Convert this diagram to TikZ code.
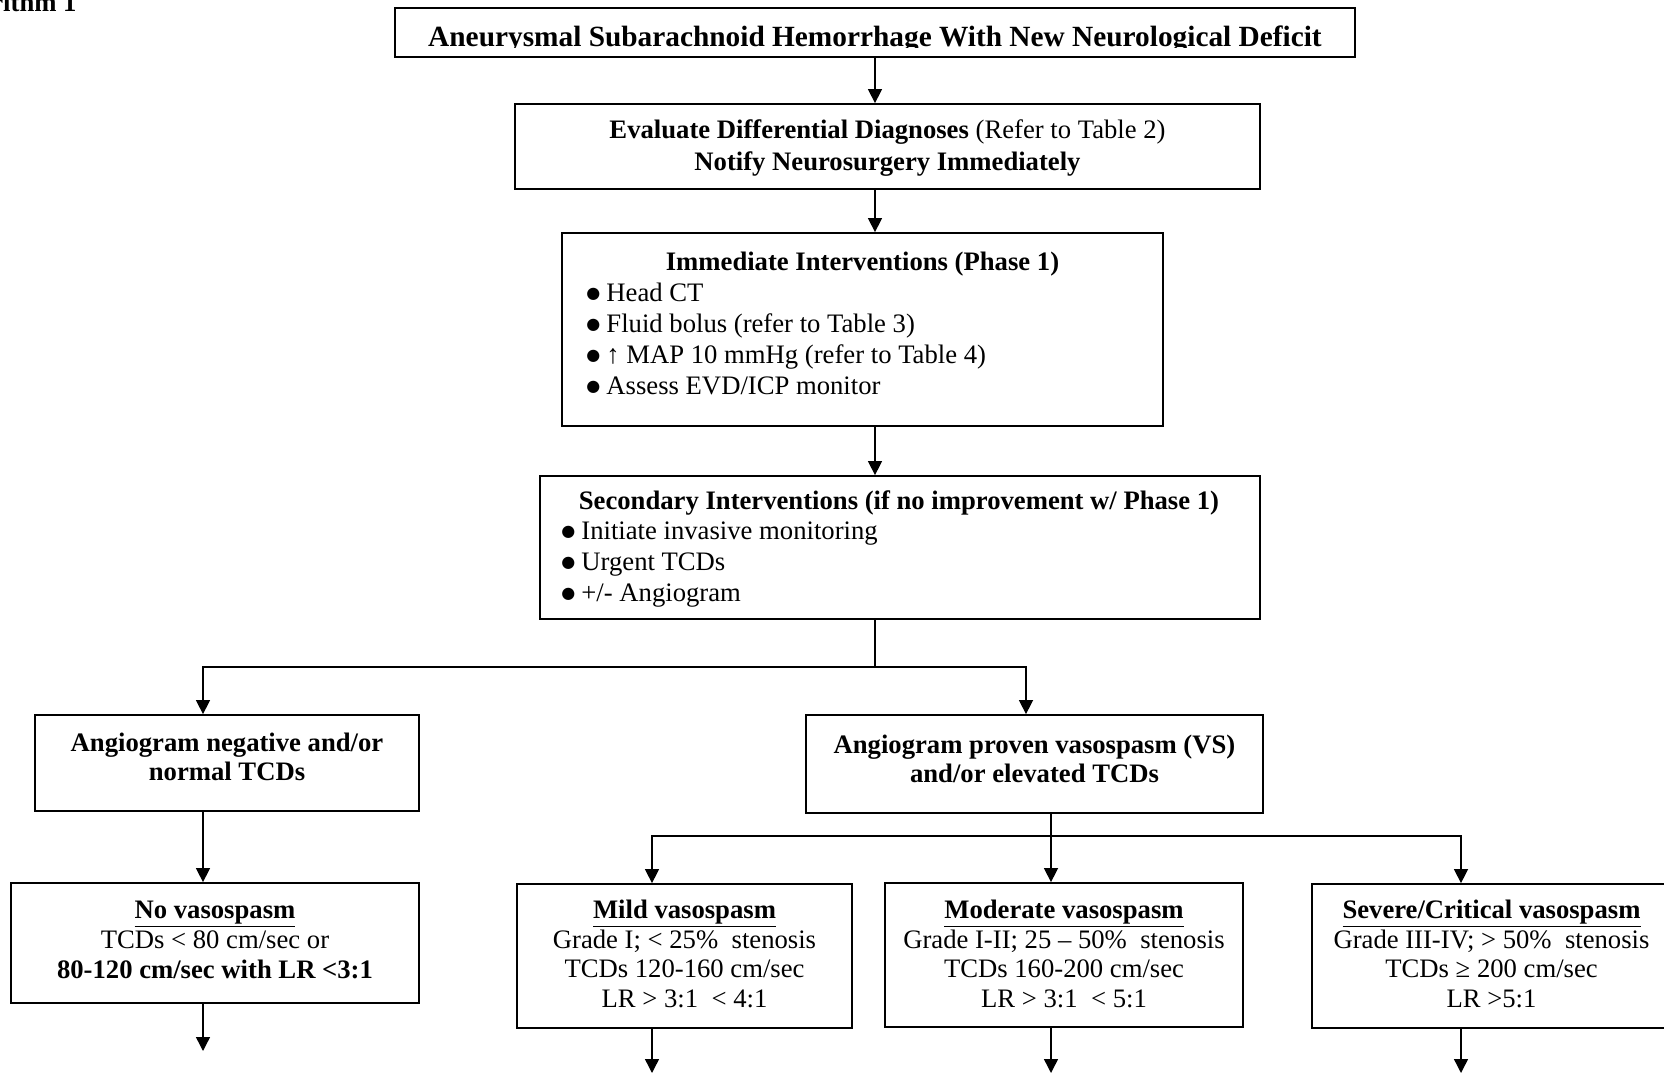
\documentclass[tikz,border=0pt]{standalone}
\usepackage{fontspec}
\setmainfont{Liberation Serif}
\newfontfamily\dejavu{DejaVu Sans}
\usetikzlibrary{arrows.meta,fit}
\newcommand{\mybul}{\makebox[9pt][l]{\raisebox{1.1pt}{\dejavu\fontsize{7.2}{9}\selectfont ●}}}
\begin{document}
\begin{tikzpicture}[x=0.45pt,y=-0.45pt,
  box/.style={draw, line width=0.8pt, inner sep=0pt, rectangle},
  tbox/.style={draw, line width=1.2pt, inner sep=0pt, rectangle},
  arr/.style={-{Triangle[length=6.3pt,width=6.3pt]}, line width=0.65pt},
  ln/.style={line width=0.65pt},
  txt/.style={anchor=base, inner sep=0pt, font=\fontsize{12}{13.8}\selectfont},
  lt/.style={anchor=base west, inner sep=0pt, font=\fontsize{12}{13.8}\selectfont}]
\useasboundingbox (0,0) rectangle (1664,1074);
\clip (0,0) rectangle (1664,1074);

% corner label
\node[anchor=base east, inner sep=0pt, font=\fontsize{12}{14}\selectfont\bfseries] (alg) at (77,11.5) {rithm 1};

% title box
\node[tbox, fit={(395,8) (1355,57)}] (b1) {};
\begin{scope}
\clip (395,8) rectangle (1355,47.8);
\node[anchor=base, inner sep=0pt, font=\fontsize{13.2}{15}\selectfont\bfseries] (t1) at (875,47) {Aneurysmal Subarachnoid Hemorrhage With New Neurological Deficit};
\end{scope}

% evaluate
\node[box, fit={(515,104) (1260,189)}] (b2) {};
\node[txt] (t2a) at (887.5,139) {\textbf{Evaluate Differential Diagnoses} (Refer to Table 2)};
\node[txt] (t2b) at (887.5,170) {\textbf{Notify Neurosurgery Immediately}};

% immediate
\node[box, fit={(562,233) (1163,426)}] (b3) {};
\node[txt] (t3) at (862.5,270) {\textbf{Immediate Interventions (Phase 1)}};
\node[lt] (t3a) at (586,301) {\mybul Head CT};
\node[lt] (t3b) at (586,332) {\mybul Fluid bolus (refer to Table 3)};
\node[lt] (t3c) at (586,363) {\mybul ↑ MAP 10 mmHg (refer to Table 4)};
\node[lt] (t3d) at (586,394) {\mybul Assess EVD/ICP monitor};

% secondary
\node[box, fit={(540,476) (1260,619)}] (b4) {};
\node[txt] (t4) at (899,509) {\textbf{Secondary Interventions (if no improvement w/ Phase 1)}};
\node[lt] (t4a) at (561,539) {\mybul Initiate invasive monitoring};
\node[lt] (t4b) at (561,570) {\mybul Urgent TCDs};
\node[lt] (t4c) at (561,601) {\mybul +/- Angiogram};

% angiogram negative
\node[box, fit={(35,715) (419,811)}] (b5) {};
\node[txt] (t5a) at (227,751) {\textbf{Angiogram negative and/or}};
\node[txt] (t5b) at (227,780) {\textbf{normal TCDs}};

% angiogram proven
\node[box, fit={(806,715) (1263,813)}] (b6) {};
\node[txt] (t6a) at (1034.5,753) {\textbf{Angiogram proven vasospasm (VS)}};
\node[txt] (t6b) at (1034.5,782) {\textbf{and/or elevated TCDs}};

% no vasospasm
\node[box, fit={(11,883) (419,1003)}] (b7) {};
\node[txt] (t7a) at (215,918) {\underline{\textbf{No vasospasm}}};
\node[txt] (t7b) at (215,948) {TCDs < 80 cm/sec or};
\node[txt] (t7c) at (215,978) {\textbf{80-120 cm/sec with LR <3:1}};

% mild
\node[box, fit={(517,884) (852,1028)}] (b8) {};
\node[txt] (t8a) at (684.5,918) {\underline{\textbf{Mild vasospasm}}};
\node[txt] (t8b) at (684.5,948) {Grade I; < 25\%\ \ stenosis};
\node[txt] (t8c) at (684.5,977) {TCDs 120-160 cm/sec};
\node[txt] (t8d) at (684.5,1007) {LR > 3:1\ \ < 4:1};

% moderate
\node[box, fit={(885,883) (1243,1027)}] (b9) {};
\node[txt] (t9a) at (1064,918) {\underline{\textbf{Moderate vasospasm}}};
\node[txt] (t9b) at (1064,948) {Grade I-II; 25 – 50\%\ \ stenosis};
\node[txt] (t9c) at (1064,977) {TCDs 160-200 cm/sec};
\node[txt] (t9d) at (1064,1007) {LR > 3:1\ \ < 5:1};

% severe
\node[box, fit={(1312,884) (1671,1028)}] (b10) {};
\node[txt] (t10a) at (1491.5,918) {\underline{\textbf{Severe/Critical vasospasm}}};
\node[txt] (t10b) at (1491.5,948) {Grade III-IV; > 50\%\ \ stenosis};
\node[txt] (t10c) at (1491.5,977) {TCDs ≥ 200 cm/sec};
\node[txt] (t10d) at (1491.5,1007) {LR >5:1};

% connectors
\coordinate (ax) at (875,0);
\coordinate (j1) at (875,667);
\coordinate (c1) at (203,667);
\coordinate (c2) at (1026,667);
\coordinate (j2) at (1051,836);
\coordinate (c3) at (652,836);
\coordinate (c4) at (1461,836);
\coordinate (e1) at (203,1051);
\coordinate (e2) at (652,1073);
\coordinate (e3) at (1051,1073);
\coordinate (e4) at (1461,1073);

\draw[arr] (b1.south) -- (b1.south |- b2.north);
\draw[arr] (ax |- b2.south) -- (ax |- b3.north);
\draw[arr] (ax |- b3.south) -- (ax |- b4.north);
\draw[ln] (ax |- b4.south) -- (j1);
\draw[arr] (j1) -- (c1) -- (c1 |- b5.north);
\draw[arr] (j1) -- (c2) -- (c2 |- b6.north);
\draw[arr] (c1 |- b5.south) -- (c1 |- b7.north);
\draw[ln] (j2 |- b6.south) -- (j2);
\draw[arr] (j2) -- (c3) -- (c3 |- b8.north);
\draw[arr] (j2) -- (j2 |- b9.north);
\draw[arr] (j2) -- (c4) -- (c4 |- b10.north);
\draw[arr] (c1 |- b7.south) -- (e1);
\draw[arr] (c3 |- b8.south) -- (e2);
\draw[arr] (j2 |- b9.south) -- (e3);
\draw[arr] (c4 |- b10.south) -- (e4);
\end{tikzpicture}
\end{document}
